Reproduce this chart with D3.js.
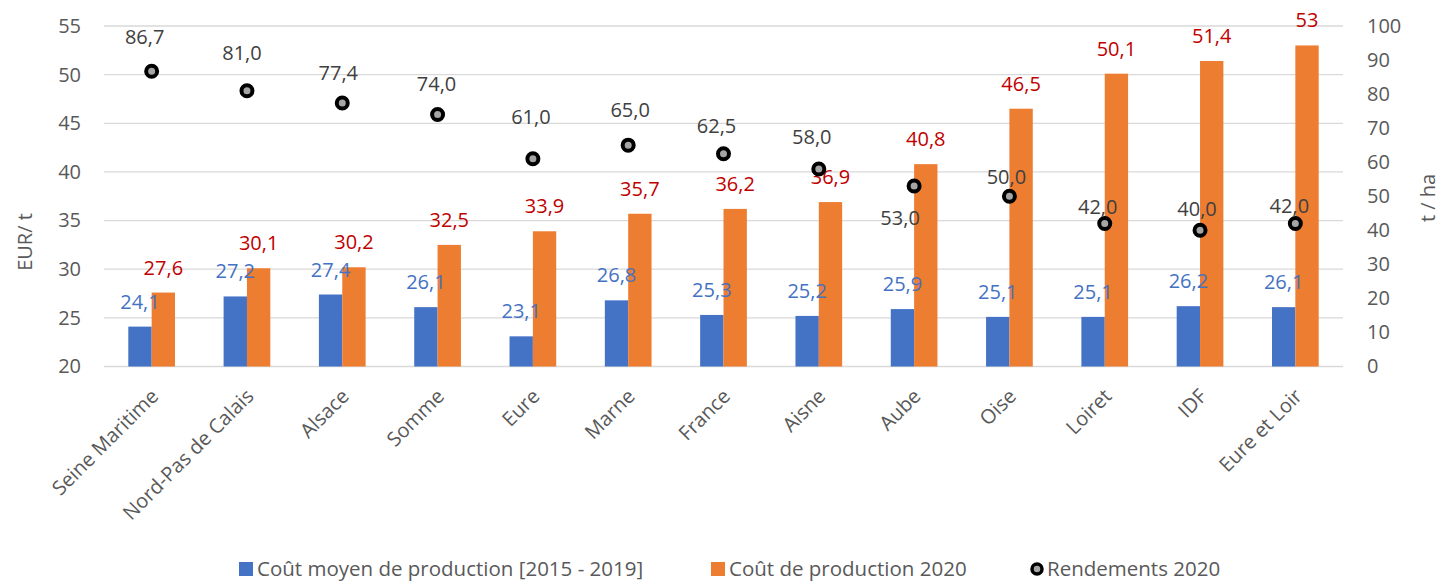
<!DOCTYPE html>
<html>
<head>
<meta charset="utf-8">
<script src="https://cdn.jsdelivr.net/npm/d3@7"></script>
<style>
  body { margin: 0; background: #fff; }
  svg text { font-family: "Open Sans", "Noto Sans", sans-serif; }
</style>
</head>
<body>
<div id="chart"></div>
<script>
// data
var regions = ["Seine Maritime", "Nord-Pas de Calais", "Alsace", "Somme", "Eure", "Marne",
    "France", "Aisne", "Aube", "Oise", "Loiret", "IDF", "Eure et Loir"];
var coutMoyen = [24.1, 27.2, 27.4, 26.1, 23.1, 26.8, 25.3, 25.2, 25.9, 25.1, 25.1, 26.2, 26.1];
var cout2020 = [27.6, 30.1, 30.2, 32.5, 33.9, 35.7, 36.2, 36.9, 40.8, 46.5, 50.1, 51.4, 53];
var rendements = [86.7, 81.0, 77.4, 74.0, 61.0, 65.0, 62.5, 58.0, 53.0, 50.0, 42.0, 40.0, 42.0];
var leftTicks = [20, 25, 30, 35, 40, 45, 50, 55];
var rightTicks = [0, 10, 20, 30, 40, 50, 60, 70, 80, 90, 100];
var seriesNames = ["Coût moyen de production [2015 - 2019]", "Coût de production 2020", "Rendements 2020"];

// label nudges for the yield labels (they were moved by hand in the original)
var dotLabelNudge = [[-7, -34], [-5, -38], [-4, -30], [-1, -31], [-2, -42], [2, -35], [-7, -28],
    [-7, -32], [-14, 32], [-3, -19], [-7, -16], [-3, -21], [-6, -17]];

var svgWidth = 1441;
var svgHeight = 581;
var plot = { left: 104, right: 1343, top: 26, bottom: 366.5 };
var fontSize = "20px";

var blue = "#4472C4", orange = "#ED7D31";
var fmt = function(v) { return (Number.isInteger(v) ? String(v) : v.toFixed(1)).replace(".", ","); };

var svg = d3.select("#chart")
    .append("svg")
    .attr("width", svgWidth)
    .attr("height", svgHeight);

// scales
var x0 = d3.scaleBand()
    .domain(regions)
    .range([plot.left, plot.right])
    .paddingInner(0.51)
    .paddingOuter(0.255);
var x1 = d3.scaleBand()
    .domain(["moyen", "2020"])
    .range([0, x0.bandwidth()]);
var yLeft = d3.scaleLinear().domain([20, 55]).range([plot.bottom, plot.top]);
var yRight = d3.scaleLinear().domain([0, 100]).range([plot.bottom, plot.top]);

// gridlines
svg.append("g")
    .selectAll("line")
    .data(leftTicks)
    .enter()
    .append("line")
    .attr("x1", plot.left)
    .attr("x2", plot.right)
    .attr("y1", function(d) { return yLeft(d); })
    .attr("y2", function(d) { return yLeft(d); })
    .attr("stroke", "#D9D9D9")
    .attr("stroke-width", 1.3);

// left axis
var leftAxis = d3.axisLeft(yLeft).tickValues(leftTicks).tickSize(0).tickPadding(23);
var gLeft = svg.append("g")
    .attr("transform", "translate(" + plot.left + ",0)")
    .call(leftAxis);
gLeft.select(".domain").remove();
gLeft.selectAll("text")
    .attr("fill", "#595959")
    .style("font-size", fontSize);

// right axis
var rightAxis = d3.axisRight(yRight).tickValues(rightTicks).tickSize(0).tickPadding(24);
var gRight = svg.append("g")
    .attr("transform", "translate(" + plot.right + ",0)")
    .call(rightAxis);
gRight.select(".domain").remove();
gRight.selectAll("text")
    .attr("fill", "#595959")
    .style("font-size", fontSize);

// axis titles
svg.append("text")
    .attr("transform", "translate(25,242) rotate(-90)")
    .attr("text-anchor", "middle")
    .attr("dy", "0.35em")
    .attr("fill", "#595959")
    .style("font-size", fontSize)
    .text("EUR/ t");
svg.append("text")
    .attr("transform", "translate(1428,198) rotate(-90)")
    .attr("text-anchor", "middle")
    .attr("dy", "0.35em")
    .attr("fill", "#595959")
    .style("font-size", fontSize)
    .text("t / ha");

// category labels
svg.append("g")
    .selectAll("text")
    .data(regions)
    .enter()
    .append("text")
    .attr("transform", function(d) {
        return "translate(" + (x0(d) + x0.bandwidth() / 2 + 3) + "," + (plot.bottom + 26) + ") rotate(-45)";
    })
    .attr("text-anchor", "end")
    .attr("dy", "0.35em")
    .attr("fill", "#595959")
    .style("font-size", fontSize)
    .text(function(d) { return d; });

// bars
var groups = svg.append("g")
    .selectAll("g")
    .data(regions)
    .enter()
    .append("g")
    .attr("transform", function(d) { return "translate(" + x0(d) + ",0)"; });

groups.append("rect")
    .attr("x", x1("moyen"))
    .attr("width", x1.bandwidth())
    .attr("y", function(d, i) { return yLeft(coutMoyen[i]); })
    .attr("height", function(d, i) { return yLeft(20) - yLeft(coutMoyen[i]); })
    .attr("fill", blue);

groups.append("rect")
    .attr("x", x1("2020"))
    .attr("width", x1.bandwidth())
    .attr("y", function(d, i) { return yLeft(cout2020[i]); })
    .attr("height", function(d, i) { return yLeft(20) - yLeft(cout2020[i]); })
    .attr("fill", orange);

// bar labels
groups.append("text")
    .attr("x", x1("moyen") + x1.bandwidth() / 2)
    .attr("y", function(d, i) { return yLeft(coutMoyen[i]) - 25; })
    .attr("dy", "0.35em")
    .attr("text-anchor", "middle")
    .attr("fill", blue)
    .style("font-size", fontSize)
    .text(function(d, i) { return fmt(coutMoyen[i]); });

groups.append("text")
    .attr("x", x1("2020") + x1.bandwidth() / 2)
    .attr("y", function(d, i) { return yLeft(cout2020[i]) - 25; })
    .attr("dy", "0.35em")
    .attr("text-anchor", "middle")
    .attr("fill", "#C00000")
    .style("font-size", fontSize)
    .text(function(d, i) { return fmt(cout2020[i]); });

// yield points
groups.append("circle")
    .attr("cx", x0.bandwidth() / 2)
    .attr("cy", function(d, i) { return yRight(rendements[i]); })
    .attr("r", 5.5)
    .attr("fill", "#A5A5A5")
    .attr("stroke", "#000")
    .attr("stroke-width", 4);

groups.append("text")
    .attr("x", function(d, i) { return x0.bandwidth() / 2 + dotLabelNudge[i][0]; })
    .attr("y", function(d, i) { return yRight(rendements[i]) + dotLabelNudge[i][1]; })
    .attr("dy", "0.35em")
    .attr("text-anchor", "middle")
    .attr("fill", "#404040")
    .style("font-size", fontSize)
    .text(function(d, i) { return rendements[i].toFixed(1).replace(".", ","); });

// legend
var legendY = 569;
var legend = svg.append("g");
legend.append("rect").attr("x", 239).attr("y", legendY - 7).attr("width", 14).attr("height", 14).attr("fill", blue);
legend.append("text").attr("x", 257).attr("y", legendY).attr("dy", "0.35em")
    .attr("fill", "#595959").style("font-size", "20.5px").text(seriesNames[0]);
legend.append("rect").attr("x", 711).attr("y", legendY - 7).attr("width", 14).attr("height", 14).attr("fill", orange);
legend.append("text").attr("x", 729).attr("y", legendY).attr("dy", "0.35em")
    .attr("fill", "#595959").style("font-size", "20.5px").text(seriesNames[1]);
legend.append("circle").attr("cx", 1037).attr("cy", legendY).attr("r", 5)
    .attr("fill", "#A5A5A5").attr("stroke", "#000").attr("stroke-width", 3.5);
legend.append("text").attr("x", 1047).attr("y", legendY).attr("dy", "0.35em")
    .attr("fill", "#595959").style("font-size", "20.5px").text(seriesNames[2]);
</script>
</body>
</html>
